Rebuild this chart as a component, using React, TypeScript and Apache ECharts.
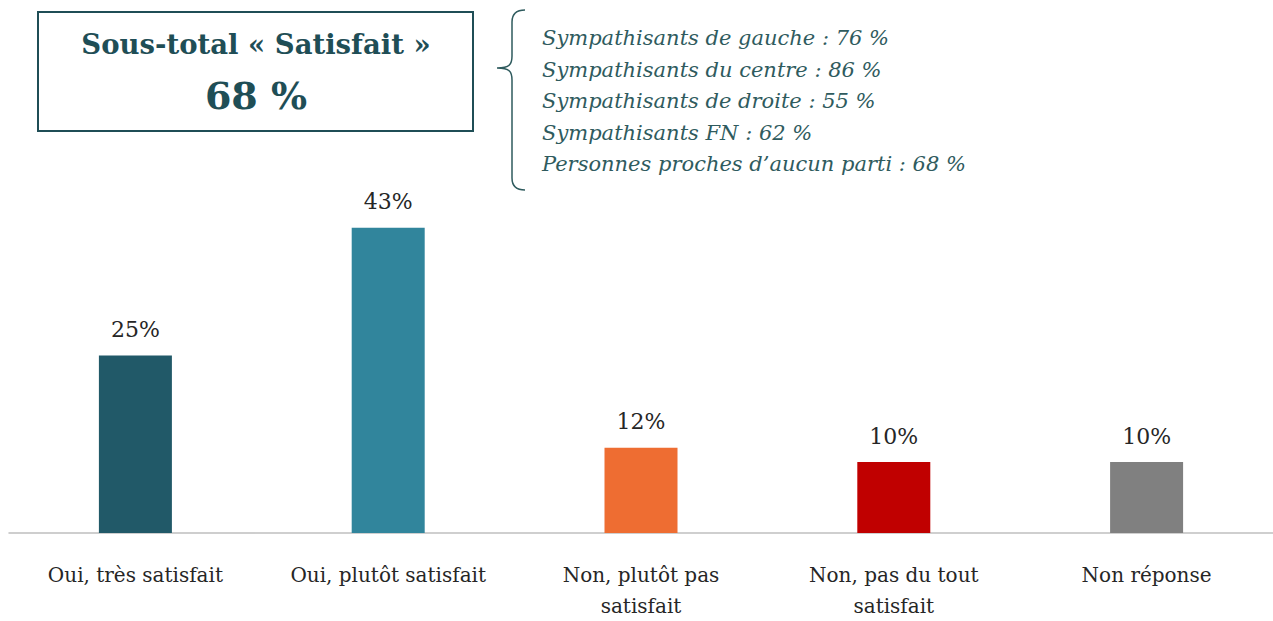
import React, { useEffect, useRef } from "react";
import * as echarts from "echarts";

const categories = [
  "Oui, très satisfait",
  "Oui, plutôt satisfait",
  "Non, plutôt pas\nsatisfait",
  "Non, pas du tout\nsatisfait",
  "Non réponse",
];
const values = [25, 43, 12, 10, 10];
const barColors = ["#215968", "#31859C", "#EE6D32", "#C00000", "#808080"];
const boxTitle = "Sous-total « Satisfait »";
const boxValue = "68 %";
const breakdown = [
  "Sympathisants de gauche : 76 %",
  "Sympathisants du centre : 86 %",
  "Sympathisants de droite : 55 %",
  "Sympathisants FN : 62 %",
  "Personnes proches d\u2019aucun parti : 68 %",
];

const FONT = "'DejaVu Serif', 'Liberation Serif', serif";
const TEAL = "#1F4E56";

const bracePath =
  "M15 0 C6 0 2 4 2 12 L2 46 C2 54 0 58 -13 58 C0 58 2 62 2 70 L2 168 C2 176 6 180 15 180";
echarts.graphic.registerShape("bracelogo", echarts.graphic.extendPath(bracePath, {}) as any);

export default function App() {
  const ref = useRef<HTMLDivElement>(null);
  useEffect(() => {
    if (!ref.current) return;
    const chart = echarts.init(ref.current, null, { renderer: "svg" });
    chart.setOption({
      animation: false,
      backgroundColor: "#ffffff",
      grid: { left: 9, right: -5, top: 178, bottom: 83, containLabel: false },
      xAxis: {
        type: "category",
        data: categories,
        axisLine: { show: true, lineStyle: { color: "#BFBFBF", width: 1.5 } },
        axisTick: { show: false },
        axisLabel: {
          interval: 0,
          color: "#262626",
          fontFamily: FONT,
          fontSize: 20,
          lineHeight: 31,
          margin: 26,
        },
      },
      yAxis: {
        type: "value",
        min: 0,
        max: 50,
        show: false,
        splitLine: { show: false },
      },
      series: [
        {
          type: "bar",
          barWidth: 73,
          data: values.map((v, i) => ({ value: v, itemStyle: { color: barColors[i] } })),
          label: {
            show: true,
            position: "top",
            distance: 15,
            formatter: "{c}%",
            color: "#262626",
            fontFamily: FONT,
            fontSize: 22,
          },
        },
      ],
      graphic: [
        {
          type: "rect",
          shape: { x: 38, y: 12, width: 435, height: 119 },
          style: { fill: "#ffffff", stroke: TEAL, lineWidth: 2 },
        },
        {
          type: "text",
          x: 256,
          y: 44,
          style: {
            text: boxTitle,
            fill: TEAL,
            font: `bold 27.5px ${FONT}`,
            textAlign: "center",
            textVerticalAlign: "middle",
          },
        },
        {
          type: "text",
          x: 256,
          y: 95,
          style: {
            text: boxValue,
            fill: TEAL,
            font: `bold 38px ${FONT}`,
            textAlign: "center",
            textVerticalAlign: "middle",
          },
        },
        {
          type: "bracelogo",
          x: 510,
          y: 10,
          style: { fill: "none", stroke: "#2F5B5E", lineWidth: 1.5 },
        },
        ...breakdown.map((t, i) => ({
          type: "text",
          x: 542,
          y: 38 + i * 31.5,
          style: {
            text: t,
            fill: "#2F5B5E",
            font: `italic 21px ${FONT}`,
            textAlign: "left",
            textVerticalAlign: "middle",
          },
        })),
      ],
    });
    return () => chart.dispose();
  }, []);
  return (
    <div
      ref={ref}
      style={{ position: "fixed", left: 0, top: 0, width: 1273, height: 621 }}
    />
  );
}
